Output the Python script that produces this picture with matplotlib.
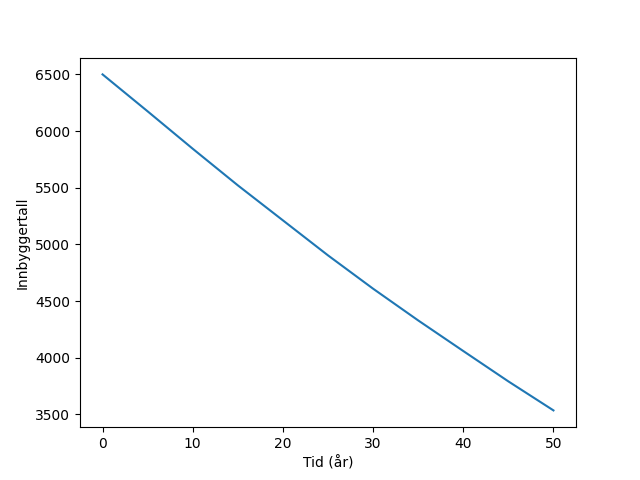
import matplotlib
matplotlib.use("Agg")
import matplotlib.pyplot as plt

# values
years = [0, 5, 10, 15, 20, 25, 30, 35, 40, 45, 50]
population = [6500, 6174, 5844, 5521, 5212, 4903, 4609, 4329, 4059, 3791, 3535]

fig, ax = plt.subplots(figsize=(6.4, 4.8), dpi=100)
ax.plot(years, population)
ax.set_xlabel('Tid (år)')
ax.set_ylabel('Innbyggertall')

fig.savefig('out.png')
